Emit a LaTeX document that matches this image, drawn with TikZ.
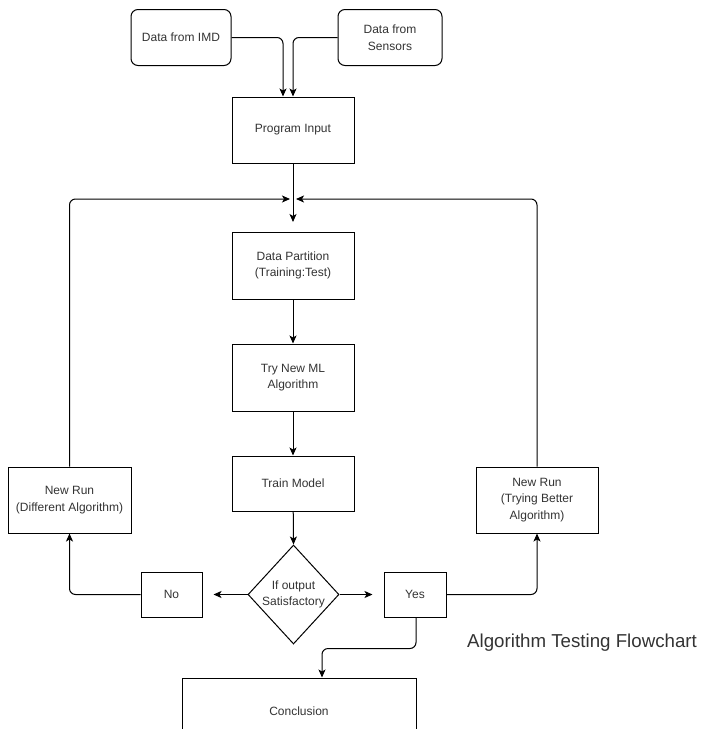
\documentclass[tikz,border=0pt]{standalone}
\usepackage{fontspec}
\setmainfont{Liberation Sans}
\usetikzlibrary{arrows.meta,shapes.geometric}
\definecolor{txt}{HTML}{333333}
\tikzset{
  box/.style={draw=black, line width=1pt, rectangle, inner sep=0pt, align=center,
    font=\fontsize{12}{16.5}\selectfont, text=txt},
  rbox/.style={box, rounded corners=7pt},
  arr/.style={draw=black, line width=1pt, -{Stealth[length=8pt,width=7pt,inset=2pt]}},
  con/.style={draw=black, line width=1pt, rounded corners=6pt},
}
\begin{document}
\begin{tikzpicture}[x=1pt,y=-1pt]
\useasboundingbox (0,0) rectangle (703,729);
% nodes
\node[rbox, minimum width=100pt, minimum height=56pt] (imd) at (181,37.5) {Data from IMD};
\node[rbox, minimum width=104pt, minimum height=56pt] (sens) at (390,37.5) {Data from\\Sensors};
\node[box, minimum width=122pt, minimum height=66pt] (prog) at (293,130) {Program Input};
\node[box, minimum width=122pt, minimum height=67pt] (part) at (293,265.5) {Data Partition\\(Training:Test)};
\node[box, minimum width=122pt, minimum height=67pt] (try) at (293,377.5) {Try New ML\\Algorithm};
\node[box, minimum width=122pt, minimum height=55pt] (train) at (293,483.5) {Train Model};
\node[draw=black, line width=1pt, diamond, inner sep=0pt, minimum width=91pt, minimum height=99pt,
  label={[align=center, font=\fontsize{12}{16.5}\selectfont, text=txt]center:If output\\Satisfactory}] (dec) at (293.5,594.5) {};
\node[box, minimum width=61pt, minimum height=45pt] (no) at (171.5,594.5) {No};
\node[box, minimum width=62pt, minimum height=45pt] (yes) at (415,594.5) {Yes};
\node[box, minimum width=123pt, minimum height=66pt] (newL) at (69.5,500) {New Run\\(Different Algorithm)};
\node[box, minimum width=122pt, minimum height=66pt] (newR) at (537,500) {New Run\\(Trying Better\\Algorithm)};
\node[box, minimum width=234pt, minimum height=66pt] (concl) at (299,711) {Conclusion};
\node[anchor=west, inner sep=0pt, font=\fontsize{18.7}{22}\selectfont, text=txt] (title) at (467,643) {Algorithm Testing Flowchart};
% coordinates
\coordinate (jin) at (293,222);
\coordinate (jl) at (290,199);
\coordinate (jr) at (296,199);
% connectors
\draw[arr, con] (imd.east) -| ([xshift=-10pt]prog.north);
\draw[arr, con] (sens.west) -| (prog.north);
\draw[arr] (prog.south) -- (jin);
\draw[arr, con] (newL.north) |- (jl);
\draw[arr, con] (newR.north) |- (jr);
\draw[arr] (part) -- (try);
\draw[arr] (try) -- (train);
\draw[arr] (train) -- (dec.north);
\draw[arr, shorten >=11pt] (dec.west) -- (no.east);
\draw[arr, shorten >=11pt] (dec.east) -- (yes.west);
\draw[arr, con] (no.west) -| (newL.south);
\draw[arr, con] (yes.east) -| (newR.south);
\draw[arr, con] ([xshift=1pt]yes.south) -- ++(0,31) -| ([xshift=23pt]concl.north);
\end{tikzpicture}
\end{document}
